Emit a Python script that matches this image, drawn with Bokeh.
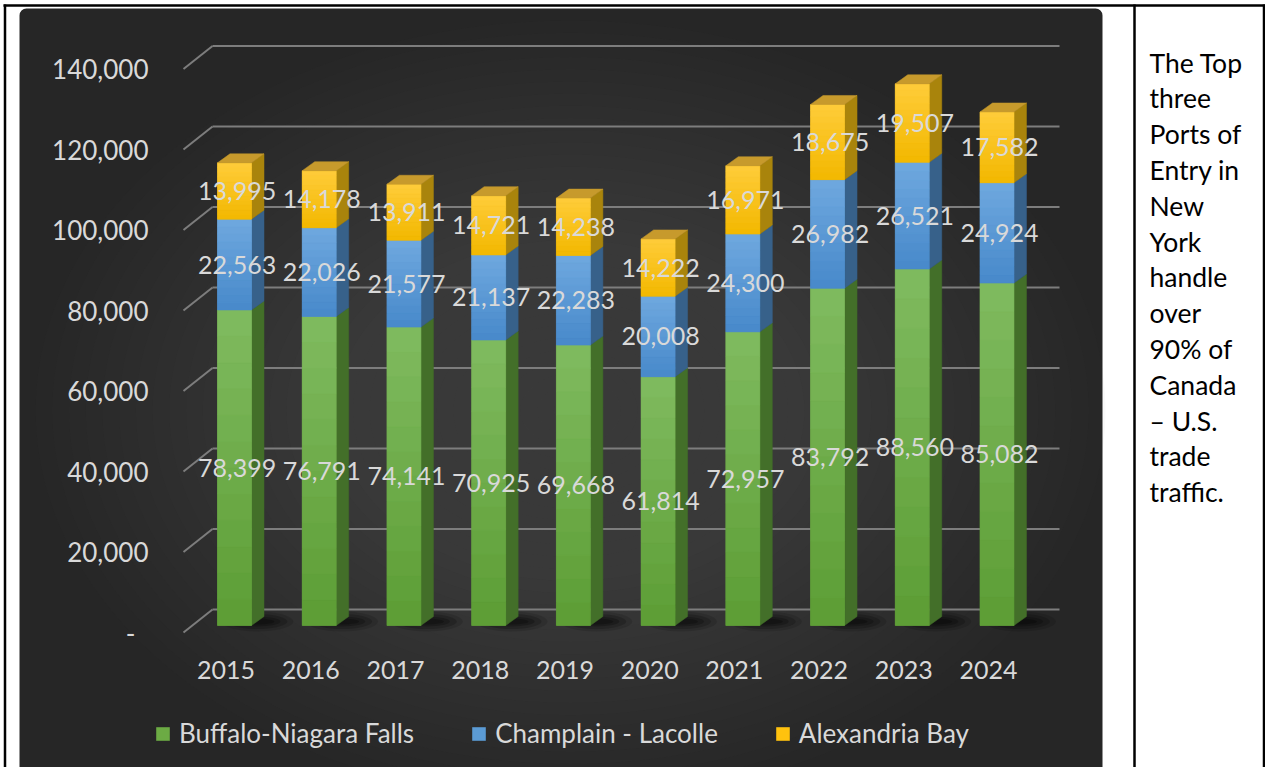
from bokeh.plotting import figure
from bokeh.models import ColumnDataSource, Range1d, Legend, LegendItem, BoxAnnotation
from bokeh.core.properties import value
from bokeh.embed import file_html
from bokeh.resources import INLINE

# ---------------- data ----------------
years = ["2015", "2016", "2017", "2018", "2019", "2020", "2021", "2022", "2023", "2024"]
buffalo = [78399, 76791, 74141, 70925, 69668, 61814, 72957, 83792, 88560, 85082]
champlain = [22563, 22026, 21577, 21137, 22283, 20008, 24300, 26982, 26521, 24924]
alexandria = [13995, 14178, 13911, 14721, 14238, 14222, 16971, 18675, 19507, 17582]
series_names = ["Buffalo-Niagara Falls", "Champlain - Lacolle", "Alexandria Bay"]
y_ticks = [0, 20000, 40000, 60000, 80000, 100000, 120000, 140000]
y_tick_labels = ["-", "20,000", "40,000", "60,000", "80,000", "100,000", "120,000", "140,000"]
note_lines = ["The Top", "three", "Ports of", "Entry in", "New", "York", "handle",
              "over", "90% of", "Canada", "\u2013 U.S.", "trade", "traffic."]

# ---------------- layout helpers (canvas pixels -> data) ----------------
W, H = 1265, 767
CAT_PX = 84.72
X0 = 234.0
K = 0.004025
Y0 = 625.0


def X(px):
    return (px - X0) / CAT_PX


def Y(py):
    return (Y0 - py) / K


def mix(c1, c2, t):
    a = [int(c1[i:i + 2], 16) for i in (1, 3, 5)]
    b = [int(c2[i:i + 2], 16) for i in (1, 3, 5)]
    return "#%02x%02x%02x" % tuple(round(a[k] + (b[k] - a[k]) * t) for k in range(3))


FONT = value("Lato")
LIGHT = "#d9d9d9"

p = figure(width=W, height=H,
           x_range=Range1d(X(0), X(W)), y_range=Range1d(Y(H), Y(0)),
           output_backend="svg", toolbar_location=None,
           x_axis_location=None, y_axis_location=None, min_border=0,
           background_fill_color="white", border_fill_color="white",
           outline_line_color=None)
p.grid.visible = False

# dark chart background
p.add_layout(BoxAnnotation(left=X(19), right=X(1102), top=Y(8), bottom=Y(780),
                           fill_color="#262626", fill_alpha=1.0, line_color=None,
                           border_radius=7, level="underlay"))
# radial lightening
n_layers = 32
for j in range(n_layers):
    f = 1.0 - j / n_layers
    p.ellipse(x=[X(570)], y=[Y(410)], width=[1070 * f / CAT_PX], height=[780 * f / K],
              fill_color="#5e5e5e", fill_alpha=0.034, line_color=None)

# back-wall gridlines with 3D diagonal
back_off = 16 / K
front_off = 7 / K
gx0 = [X(212)] * len(y_ticks)
gx1 = [X(1059)] * len(y_ticks)
gy = [v + back_off for v in y_ticks]
p.segment(x0=gx0, y0=gy, x1=gx1, y1=gy, line_color="#7d7d7d", line_width=2)
p.segment(x0=[X(183)] * len(y_ticks), y0=[v - front_off for v in y_ticks],
          x1=gx0, y1=gy, line_color="#7d7d7d", line_width=2)

# y tick labels
p.text(x=[X(148)] * len(y_ticks), y=[v - front_off for v in y_ticks], text=y_tick_labels,
       x_offset=[-13 if t == "-" else 0 for t in y_tick_labels],
       text_align="right", text_baseline="middle", text_color=LIGHT,
       text_font=FONT, text_font_size="26px")

# x category labels
idx = list(range(len(years)))
p.text(x=[i - 0.1 for i in idx], y=[Y(669)] * len(idx), text=years,
       text_align="center", text_baseline="middle", text_color=LIGHT,
       text_font=FONT, text_font_size="25px")

# bar geometry
BAR_W = 34 / CAT_PX
DX = 12.5 / CAT_PX
DY = 9 / K

# shadows at bar bases
for w_px, h_px, a in [(72, 20, 0.12), (60, 15, 0.18), (46, 10, 0.22), (34, 6, 0.25)]:
    p.ellipse(x=[i + BAR_W / 2 + 0.07 for i in idx], y=[Y(621)] * len(idx),
              width=w_px / CAT_PX, height=h_px / K,
              fill_color="black", fill_alpha=a, line_color=None)

g_bot = [0] * len(idx)
g_top = list(buffalo)
b_bot = g_top
b_top = [a + b for a, b in zip(buffalo, champlain)]
y_bot = b_top
y_top = [a + b for a, b in zip(b_top, alexandria)]

segments = [
    (g_bot, g_top, buffalo, "#6cab44", "#5c9d34", "#80bb60", "#436f29"),
    (b_bot, b_top, champlain, "#5b9bd5", "#4789ca", "#6fa8df", "#37618a"),
    (y_bot, y_top, alexandria, "#ffc20e", "#f2b800", "#ffcc3a", "#a9840c"),
]

N_SLICE = 12
fronts = []
for bot, top, vals, mid_c, bot_c, top_c, side_c in segments:
    xr = [i + BAR_W / 2 for i in idx]
    side_xs = [[x, x + DX, x + DX, x] for x in xr]
    side_ys = [[b, b + DY, t + DY, t] for b, t in zip(bot, top)]
    p.patches(xs=side_xs, ys=side_ys, fill_color=side_c, line_color=side_c, line_width=0.5)
    src = ColumnDataSource(dict(x=idx, bottom=bot, top=top))
    r = p.vbar(x="x", width=BAR_W, bottom="bottom", top="top", source=src,
               fill_color=mid_c, line_color=None)
    fronts.append(r)
    # vertical colour gradient of the front face
    ql, qr, qb, qt, qc = [], [], [], [], []
    for i, b, t in zip(idx, bot, top):
        for s in range(N_SLICE):
            ql.append(i - BAR_W / 2)
            qr.append(i + BAR_W / 2)
            qb.append(b + (t - b) * s / N_SLICE)
            qt.append(b + (t - b) * (s + 1) / N_SLICE)
            qc.append(mix(bot_c, top_c, (s + 0.5) / N_SLICE))
    p.quad(left=ql, right=qr, bottom=qb, top=qt, fill_color=qc, line_color=qc, line_width=0.6)

# top face of the stack
top_xs = [[i - BAR_W / 2, i - BAR_W / 2 + DX, i + BAR_W / 2 + DX, i + BAR_W / 2] for i in idx]
top_ys = [[t, t + DY, t + DY, t] for t in y_top]
p.patches(xs=top_xs, ys=top_ys, fill_color="#c79a2c", line_color="#c79a2c", line_width=0.5)

# data labels
for bot, top, vals, *_ in segments:
    p.text(x=[i + 0.03 for i in idx], y=[(b + t) / 2 for b, t in zip(bot, top)],
           text=[f"{v:,}" for v in vals], text_align="center", text_baseline="middle",
           text_color=LIGHT, text_font=FONT, text_font_size="25px")

# legend
legend = Legend(items=[LegendItem(label=n, renderers=[r]) for n, r in zip(series_names, fronts)],
                orientation="horizontal", location=(154, 18),
                glyph_width=17, glyph_height=17, label_standoff=8, spacing=56,
                padding=0, margin=0, background_fill_alpha=0, border_line_alpha=0,
                label_text_color=LIGHT, label_text_font="Lato", label_text_font_size="26px")
p.add_layout(legend, "center")

# note text cell
p.text(x=[X(1149)] * len(note_lines), y=[Y(62 + 35.8 * k) for k in range(len(note_lines))],
       text=note_lines, text_align="left", text_baseline="middle", text_color="black",
       text_font=FONT, text_font_size="26.5px")

# table borders
p.segment(x0=[X(3), X(4.5), X(1134), X(1263.5)],
          y0=[Y(5), Y(4), Y(4), Y(4)],
          x1=[X(1265), X(4.5), X(1134), X(1263.5)],
          y1=[Y(5), Y(767), Y(767), Y(767)],
          line_color="black", line_width=2.5)

open("out.html", "w").write(file_html(p, INLINE))
